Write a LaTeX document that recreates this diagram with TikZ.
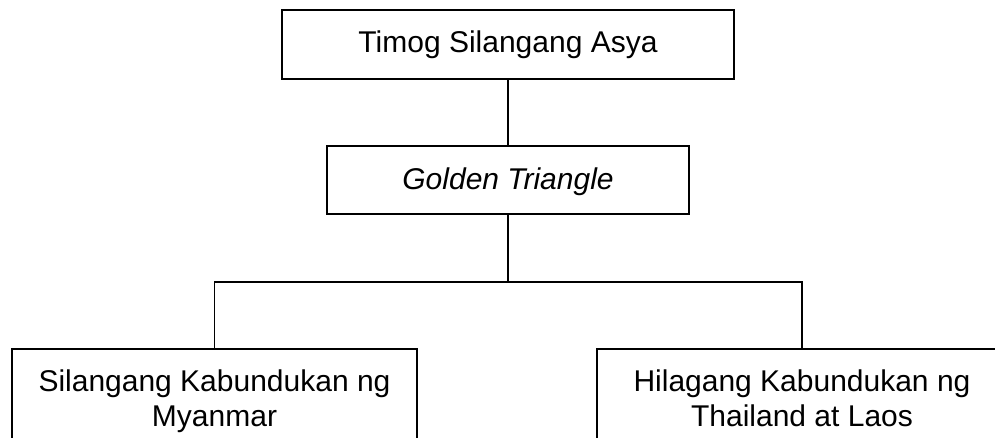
\documentclass[tikz,border=0pt]{standalone}
\usepackage{fontspec}
\setmainfont{Liberation Sans}
\begin{document}
\begin{tikzpicture}[x=1pt,y=-1pt,
  box/.style={draw, line width=1.3pt, inner sep=0pt},
  lbl/.style={inner sep=0pt, font=\fontsize{30}{34.5}\selectfont, align=center, anchor=base},
  conn/.style={draw, line width=1.3pt}]
\useasboundingbox (0,0) rectangle (995,438);
\clip (0,0) rectangle (995,438);
\node[box, minimum width=452pt, minimum height=69pt] (top) at (508,44.5) {};
\node[box, minimum width=362pt, minimum height=68pt] (gold) at (508,180) {};
\node[box, minimum width=405pt, minimum height=120pt] (left) at (214.5,409) {};
\node[box, minimum width=410pt, minimum height=120pt] (right) at (802,409) {};
\node[lbl] (ttop) at (508,53) {Timog Silangang Asya};
\node[lbl] (tgold) at (508,190) {\itshape Golden Triangle};
\node[lbl] (tleft) at (214.5,426) {Silangang Kabundukan ng\\Myanmar};
\node[lbl] (tright) at (802,426) {Hilagang Kabundukan ng\\Thailand at Laos};
\coordinate (j) at (508,282);
\draw[conn] (top.south) -- (gold.north);
\draw[conn] (gold.south) -- (j);
\draw[conn] (left.north) -- (left.north |- j) -- (right.north |- j) -- (right.north);
\end{tikzpicture}
\end{document}
